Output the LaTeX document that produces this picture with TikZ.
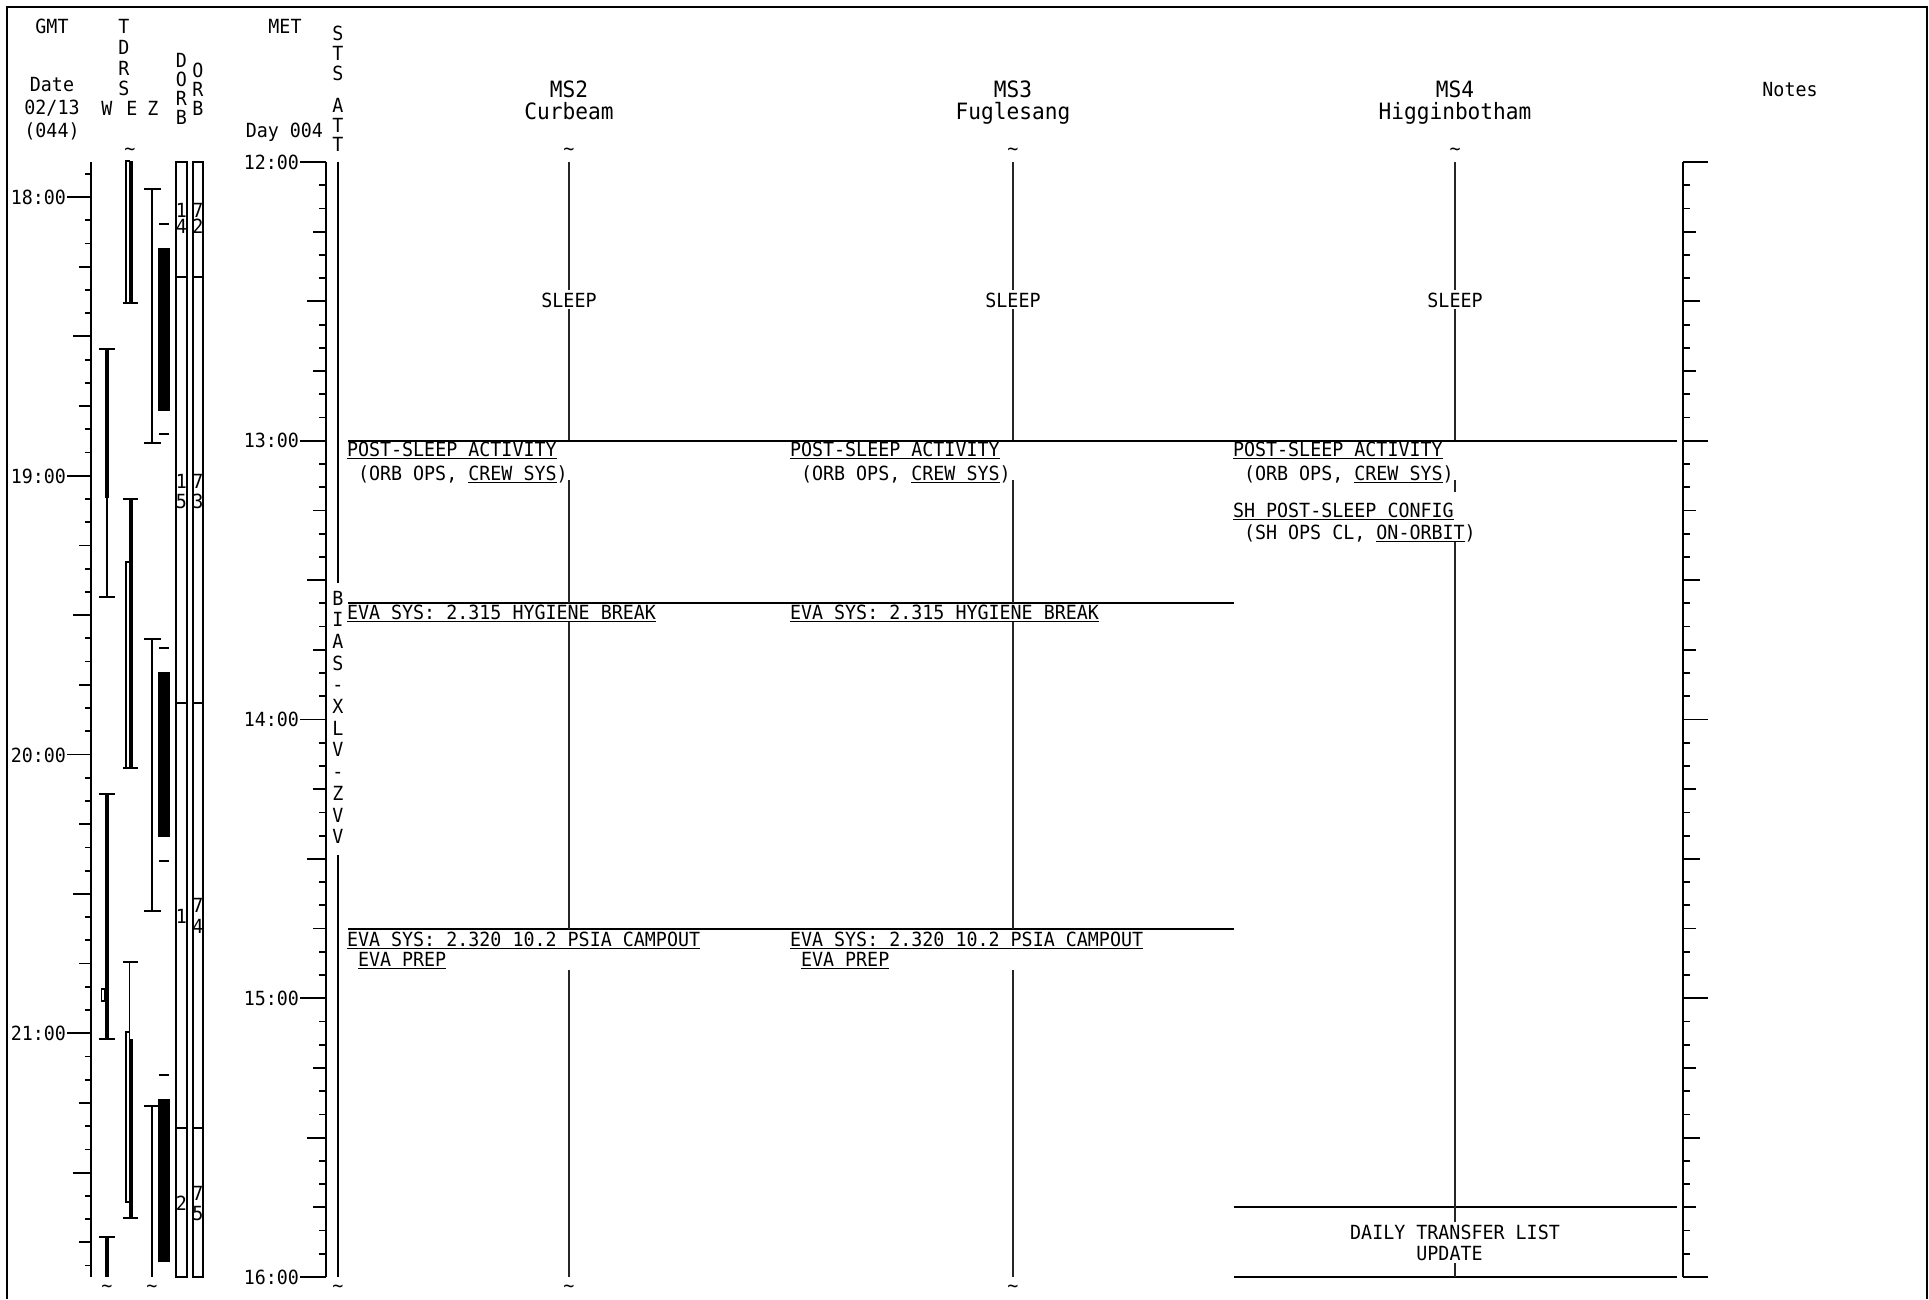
\documentclass[tikz,border=0pt]{standalone}
\usepackage{fontspec}
\newfontfamily\mono[FakeStretch=0.94]{DejaVu Sans Mono}
\newsavebox\ulbox
\newcommand\ul[1]{\sbox\ulbox{#1}\rlap{\rule[-3.4pt]{\wd\ulbox}{1.5pt}}\usebox\ulbox}
\begin{document}
\begin{tikzpicture}[x=1pt,y=-1pt,line width=1.8pt,
  every node/.style={font=\mono\fontsize{19.5}{22}\selectfont,inner sep=0pt,outer sep=0pt},
  lbl/.style={anchor=base west},
  ctr/.style={anchor=base},
  rgt/.style={anchor=base east},
  hdr/.style={anchor=base,font=\mono\fontsize{22.5}{26}\selectfont},
  barblack/.style={fill=black,draw=none},
  barwhite/.style={draw=black,fill=white,line width=1.2pt},
  orbbox/.style={draw=black,line width=1.5pt},
  colline/.style={line width=1.8pt,black!85},
  sepline/.style={line width=2pt}]
\useasboundingbox (0,0) rectangle (1929,1299);
% frame
\draw[line width=2pt] (7,1299) -- (7,7) -- (1927,7) -- (1927,1299);

% ---------- header texts ----------
\node[ctr] (gmt) at (52,33) {GMT};
\node[ctr] (date) at (52,91) {Date};
\node[ctr] (dmd) at (52,114) {02/13};
\node[ctr] (doy) at (52,137) {(044)};
\node[ctr] (met) at (285,33) {MET};
\node[rgt] (day) at (323,137) {Day 004};
\foreach \c/\yy [count=\i] in {T/33,D/54,R/75,S/95}
  \node[ctr] (tdrs\i) at (124,\yy) {\c};
\node[ctr] (hw) at (107,115) {W};
\node[ctr] (he) at (132,115) {E};
\node[ctr] (hz) at (153,115) {Z};
\foreach \c/\yy [count=\i] in {D/67,O/86,R/105,B/124}
  \node[ctr] (dorb\i) at (181.5,\yy) {\c};
\foreach \c/\yy [count=\i] in {O/77,R/96,B/115}
  \node[ctr] (orb\i) at (198,\yy) {\c};
\foreach \c/\yy [count=\i] in {S/40,T/60,S/80,A/112,T/132,T/151}
  \node[ctr] (sts\i) at (338,\yy) {\c};
\foreach \c [count=\i from 0] in {B,I,A,S,-,X,L,V,-,Z,V,V}
  \node[ctr] (bias\i) at (338,{605+\i*21.7}) {\c};

\node[hdr] (ms2) at (569,97) {MS2};
\node[hdr] (ms2n) at (569,119) {Curbeam};
\node[hdr] (ms3) at (1013,97) {MS3};
\node[hdr] (ms3n) at (1013,119) {Fuglesang};
\node[hdr] (ms4) at (1455,97) {MS4};
\node[hdr] (ms4n) at (1455,119) {Higginbotham};
\node[ctr] (notes) at (1790,96) {Notes};

% tildes
\foreach \xx/\yy [count=\i] in {130/155,569/155,1013/155,1455/155,107/1292,152/1292,338/1292,569/1292,1013/1292}
  \node[ctr] (til\i) at (\xx,\yy) {\textasciitilde};

% ---------- GMT axis ----------
\draw (91,162) -- (91,1277);
\foreach \k in {-1,...,46} {
  \pgfmathsetmacro\yy{197+\k*23.229}
  \pgfmathtruncatemacro\m{mod(\k+12,12)}
  \ifnum\m=0 \def\xs{67}\else\ifnum\m=6 \def\xs{73}\else\ifnum\m=3 \def\xs{79}\else\ifnum\m=9 \def\xs{79}\else\def\xs{85}\fi\fi\fi\fi
  \draw (\xs,\yy) -- (91,\yy);
}
\foreach \t/\yy [count=\i] in {18:00/197,19:00/476,20:00/755,21:00/1033}
  \node[rgt] (g\i) at (66,\yy+7) {\t};

% ---------- MET axis ----------
\draw (326,162) -- (326,1277);
\foreach \k in {0,...,48} {
  \pgfmathsetmacro\yy{162+\k*23.229}
  \pgfmathtruncatemacro\m{mod(\k,12)}
  \ifnum\m=0 \def\xs{300}\else\ifnum\m=6 \def\xs{307}\else\ifnum\m=3 \def\xs{313}\else\ifnum\m=9 \def\xs{313}\else\def\xs{319}\fi\fi\fi\fi
  \draw (\xs,\yy) -- (326,\yy);
}
\foreach \t/\yy [count=\i] in {12:00/162,13:00/440.75,14:00/719.5,15:00/998.25,16:00/1277}
  \node[rgt] (m\i) at (299,\yy+7) {\t};

% ---------- Notes axis ----------
\draw (1683,162) -- (1683,1277);
\foreach \k in {0,...,48} {
  \pgfmathsetmacro\yy{162+\k*23.229}
  \pgfmathtruncatemacro\m{mod(\k,12)}
  \ifnum\m=0 \def\xe{1708}\else\ifnum\m=6 \def\xe{1700}\else\ifnum\m=3 \def\xe{1696}\else\ifnum\m=9 \def\xe{1696}\else\def\xe{1690}\fi\fi\fi\fi
  \draw (1683,\yy) -- (\xe,\yy);
}

% ---------- STS ATT line ----------
\draw[line width=1.6pt] (338,162) -- (338,583);
\draw[line width=1.6pt] (338,855) -- (338,1277);

% ---------- TDRS W ----------
\fill[barblack] (104.6,349) rectangle (109.4,498);
\draw (99,349) -- (115,349);
\draw[line width=1.4pt] (107,498) -- (107,597);
\draw (99,597) -- (115,597);
\fill[barblack] (104.6,794) rectangle (109.4,1039);
\draw (99,794) -- (115,794);
\draw (99,1039) -- (115,1039);
\draw[barwhite] (101.8,989) rectangle (104.8,1001);
\fill[barblack] (104.6,1237) rectangle (109.4,1277);
\draw (99,1237) -- (115,1237);

% ---------- TDRS E ----------
\draw[barwhite] (126,161) rectangle (129.3,303);
\fill[barblack] (129.3,161) rectangle (133.3,303);
\draw (123,303) -- (138,303);
\draw (123,499) -- (138,499);
\draw[barwhite] (126,562) rectangle (129.3,768);
\fill[barblack] (129.3,499) rectangle (133.3,768);
\draw (123,768) -- (138,768);
\draw (123,962) -- (138,962);
\draw[line width=1.4pt] (129.3,962) -- (129.3,1032);
\draw[barwhite] (126,1032) rectangle (129.3,1202);
\fill[barblack] (129.3,1039) rectangle (133.3,1218);
\draw (123,1218) -- (138,1218);

% ---------- TDRS Z ----------
\draw (144,189) -- (161,189);
\draw[line width=1.4pt] (152,189) -- (152,443);
\draw (144,443) -- (161,443);
\draw (159,224) -- (169,224);
\draw (159,434) -- (169,434);
\fill[barblack] (158,248) rectangle (170,411);
\draw (144,639) -- (161,639);
\draw[line width=1.4pt] (152,639) -- (152,911);
\draw (144,911) -- (161,911);
\draw (159,648) -- (169,648);
\draw (159,861) -- (169,861);
\fill[barblack] (158,672) rectangle (170,837);
\draw (159,1075) -- (169,1075);
\draw (144,1106) -- (158,1106);
\draw[line width=1.4pt] (152,1106) -- (152,1277);
\fill[barblack] (158,1099) rectangle (170,1262);

% ---------- DORB / ORB ----------
\draw[orbbox] (176,162) rectangle (187,1277);
\draw[orbbox] (193,162) rectangle (203,1277);
\foreach \yy in {277,703,1128} {
  \draw[orbbox] (176,\yy) -- (187,\yy);
  \draw[orbbox] (193,\yy) -- (203,\yy);
}
\foreach \c/\xx/\yy [count=\i] in {1/181.5/217,4/181.5/233,7/198/217,2/198/233,
    1/181.5/488,5/181.5/508,7/198/488,3/198/508,
    1/181.5/923,7/198/912,4/198/933,
    2/181.5/1210,7/198/1200,5/198/1220}
  \node[ctr] (num\i) at (\xx,\yy) {\c};

% ---------- horizontal separators ----------
\draw[sepline] (348,440.75) -- (1677,440.75);
\draw[sepline] (348,603) -- (1234,603);
\draw[sepline] (348,929) -- (1234,929);
\draw[sepline] (1234,1207) -- (1677,1207);
\draw[sepline] (1234,1277) -- (1677,1277);

% ---------- crew column lines ----------
\foreach \xx in {569,1013} {
  \draw[colline] (\xx,162) -- (\xx,290);
  \draw[colline] (\xx,309) -- (\xx,440);
  \draw[colline] (\xx,480) -- (\xx,603);
  \draw[colline] (\xx,622) -- (\xx,929);
  \draw[colline] (\xx,970) -- (\xx,1277);
}
\draw[colline] (1455,162) -- (1455,290);
\draw[colline] (1455,309) -- (1455,440);
\draw[colline] (1455,480) -- (1455,492);
\draw[colline] (1455,542) -- (1455,1222);
\draw[colline] (1455,1263) -- (1455,1277);

% ---------- activity texts ----------
\foreach \xx/\nm in {569/a,1013/b,1455/c}
  \node[ctr] (sleep\nm) at (\xx,307) {SLEEP};
\foreach \xo/\nm in {347/a,790/b} {
  \node[lbl] (psa\nm) at (\xo,456) {\ul{POST-SLEEP ACTIVITY}};
  \node[lbl] (psb\nm) at (\xo+11,480) {(ORB OPS, \ul{CREW SYS})};
  \node[lbl] (hyg\nm) at (\xo,619) {\ul{EVA SYS: 2.315 HYGIENE BREAK}};
  \node[lbl] (cmp\nm) at (\xo,946) {\ul{EVA SYS: 2.320 10.2 PSIA CAMPOUT}};
  \node[lbl] (prp\nm) at (\xo+11,966) {\ul{EVA PREP}};
}
\node[lbl] (psac) at (1233,456) {\ul{POST-SLEEP ACTIVITY}};
\node[lbl] (psbc) at (1244,480) {(ORB OPS, \ul{CREW SYS})};
\node[lbl] (shc) at (1233,517) {\ul{SH POST-SLEEP CONFIG}};
\node[lbl] (shd) at (1244,539) {(SH OPS CL, \ul{ON-ORBIT})};
\node[ctr] (dtl) at (1455,1239) {DAILY TRANSFER LIST};
\node[ctr] (upd) at (1449.5,1260) {UPDATE};
\end{tikzpicture}
\end{document}
